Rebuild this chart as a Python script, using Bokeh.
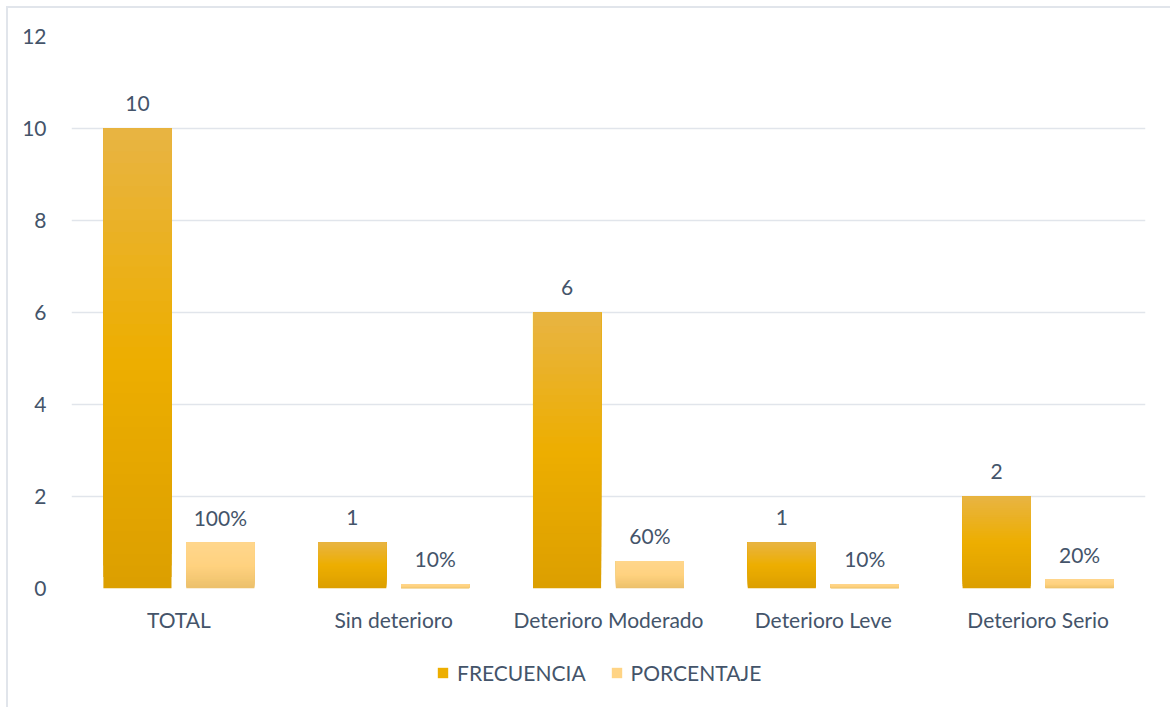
from bokeh.plotting import figure
from bokeh.layouts import column
from bokeh.models import ColumnDataSource, Range1d, FactorRange, Legend, LegendItem
from bokeh.transform import dodge
from bokeh.core.properties import value
from bokeh.embed import file_html
from bokeh.resources import INLINE

categories = ["TOTAL", "Sin deterioro", "Deterioro Moderado", "Deterioro Leve", "Deterioro Serio"]
frecuencia = [10, 1, 6, 1, 2]
porcentaje = [1.00, 0.10, 0.60, 0.10, 0.20]
frecuencia_labels = ["10", "1", "6", "1", "2"]
porcentaje_labels = ["100%", "10%", "60%", "10%", "20%"]
series_names = ["FRECUENCIA", "PORCENTAJE"]
y_ticks = [0, 2, 4, 6, 8, 10, 12]

FONT = "Lato"
TEXT = "#44546A"
GRID = "#E1E5EB"
FS = "21px"

# gradient stops: position from top (0) to bottom (1)
FREC_STOPS = [(0.0, (232, 180, 67)), (0.5, (237, 174, 0)), (1.0, (220, 159, 0))]
PORC_STOPS = [(0.0, (255, 214, 140)), (0.5, (255, 210, 128)), (1.0, (236, 192, 106))]

OFF = 0.193
BW = 0.317
N = 40


def interp(t, stops):
    for (p0, c0), (p1, c1) in zip(stops[:-1], stops[1:]):
        if p0 <= t <= p1:
            f = (t - p0) / (p1 - p0)
            c = tuple(int(round(a + (b - a) * f)) for a, b in zip(c0, c1))
            return "#%02x%02x%02x" % c
    return "#%02x%02x%02x" % stops[-1][1]


def bands(values, stops):
    cats, bottoms, tops, colors = [], [], [], []
    for i in range(N):
        for c, v in zip(categories, values):
            cats.append(c)
            bottoms.append(v * i / N)
            tops.append(v)
            colors.append(interp(1 - (i + 0.5) / N, stops))
    return ColumnDataSource(dict(cat=cats, bottom=bottoms, top=tops, color=colors))


p = figure(frame_width=1074, frame_height=552, x_range=FactorRange(*categories), y_range=Range1d(0, 12),
           output_backend="svg", toolbar_location=None,
           min_border_left=63, min_border_right=25, min_border_top=28, min_border_bottom=40,
           outline_line_color=None)

p.xgrid.grid_line_color = None
p.ygrid.grid_line_color = GRID
p.ygrid.grid_line_width = 1.5
p.x_range.range_padding = 0

for ax in (p.xaxis[0], p.yaxis[0]):
    ax.axis_line_color = None
    ax.major_tick_line_color = None
    ax.minor_tick_line_color = None
    ax.major_label_text_font = FONT
    ax.major_label_text_font_size = FS
    ax.major_label_text_color = TEXT
p.yaxis.ticker = y_ticks
p.yaxis.major_label_standoff = 19
p.xaxis.major_label_standoff = 12

src_f = bands(frecuencia, FREC_STOPS)
src_p = bands(porcentaje, PORC_STOPS)
p.vbar(x=dodge("cat", -OFF, range=p.x_range), bottom="bottom", top="top", width=BW,
       fill_color="color", line_color=None, source=src_f)
p.vbar(x=dodge("cat", OFF, range=p.x_range), bottom="bottom", top="top", width=BW,
       fill_color="color", line_color=None, source=src_p)

lab_f = ColumnDataSource(dict(cat=categories, y=frecuencia, t=frecuencia_labels))
lab_p = ColumnDataSource(dict(cat=categories, y=porcentaje, t=porcentaje_labels))
for src, off in ((lab_f, -OFF), (lab_p, OFF)):
    p.text(x=dodge("cat", off, range=p.x_range), y="y", text="t", source=src,
           text_font=value(FONT), text_font_size=FS, text_color=TEXT,
           text_align="center", text_baseline="alphabetic", y_offset=-25)

# legend strip below the chart (swatch renderers sit outside the visible range)
leg = figure(width=1162, height=79, x_range=Range1d(0, 1), y_range=Range1d(0, 1),
             output_backend="svg", toolbar_location=None, outline_line_color=None,
             x_axis_location=None, y_axis_location=None, min_border=0)
leg.grid.visible = False
swatch = ColumnDataSource(dict(x=[-5], top=[-5]))
dummy_f = leg.vbar(x="x", top="top", width=0.1, source=swatch,
                   fill_color=interp(0.5, FREC_STOPS), line_color=None)
dummy_p = leg.vbar(x="x", top="top", width=0.1, source=swatch,
                   fill_color=interp(0.3, PORC_STOPS), line_color=None)
legend = Legend(items=[LegendItem(label=series_names[0], renderers=[dummy_f]),
                       LegendItem(label=series_names[1], renderers=[dummy_p])],
                orientation="horizontal", location=(365, 28),
                glyph_width=13, glyph_height=13, label_standoff=8, spacing=24,
                label_text_font=FONT, label_text_font_size=FS, label_text_color=TEXT,
                border_line_color=None, background_fill_alpha=0, padding=0, margin=0)
leg.add_layout(legend, "center")

layout = column(p, leg, spacing=0)
layout.margin = (6, 0, 0, 6)
layout.styles = {"border-left": f"2px solid {GRID}", "border-top": f"2px solid {GRID}"}

open("out.html", "w").write(file_html(layout, INLINE))
